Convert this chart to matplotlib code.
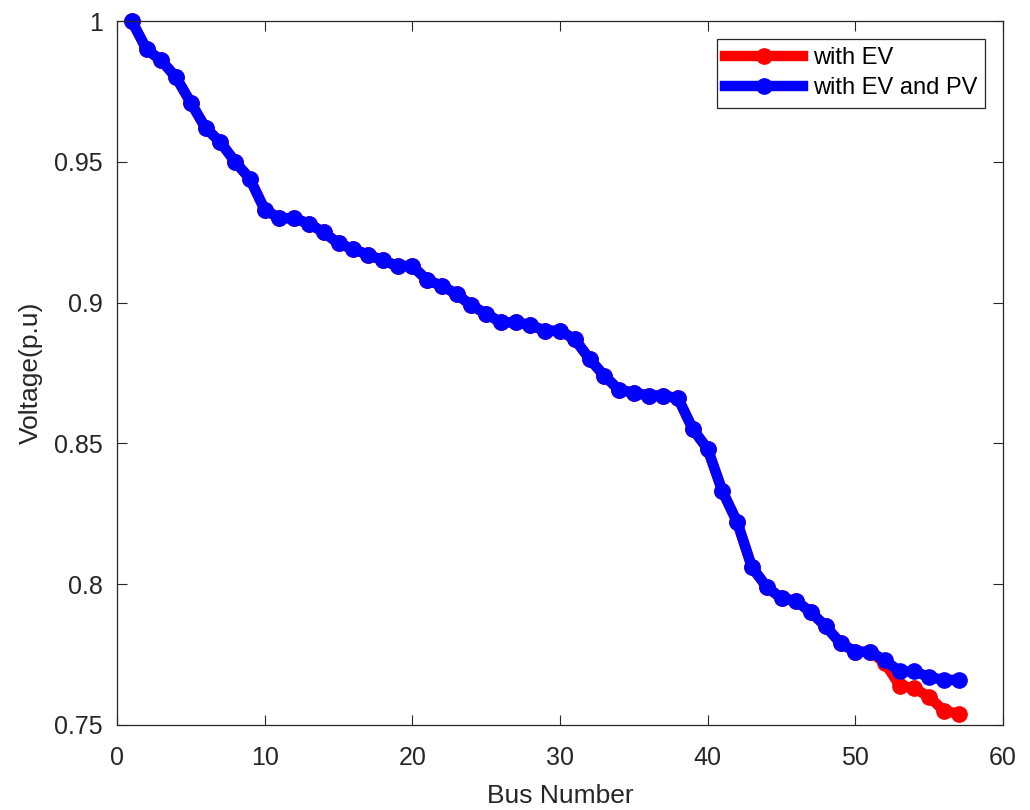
import numpy as np
import matplotlib
matplotlib.use("Agg")
import matplotlib.pyplot as plt

plt.rcParams["font.family"] = ["Liberation Sans", "DejaVu Sans"]

# Bus numbers 1..57
bus = list(range(1, 58))

# Voltage profile with EV and PV (p.u.)
v_ev_pv = [1.000, 0.990, 0.986, 0.980, 0.971, 0.962, 0.957, 0.950, 0.944, 0.933,
           0.930, 0.930, 0.928, 0.925, 0.921, 0.919, 0.917, 0.915, 0.913, 0.913,
           0.908, 0.906, 0.903, 0.899, 0.896, 0.893, 0.893, 0.892, 0.890, 0.890,
           0.887, 0.880, 0.874, 0.869, 0.868, 0.867, 0.867, 0.866, 0.855, 0.848,
           0.833, 0.822, 0.806, 0.799, 0.795, 0.794, 0.790, 0.785, 0.779, 0.776,
           0.776, 0.773, 0.769, 0.769, 0.767, 0.766, 0.766]

# Voltage profile with EV only (differs only at the tail)
v_ev = v_ev_pv[:51] + [0.772, 0.764, 0.763, 0.760, 0.755, 0.754]

fig = plt.figure(figsize=(10.3, 8.1), dpi=100)
ax = fig.add_axes([0.1136, 0.105, 0.8602, 0.869])

ax.plot(bus, v_ev, color="#ff0000", linewidth=7.5, marker="o", markersize=11,
        label="with EV", clip_on=False)
ax.plot(bus, v_ev_pv, color="#0000ff", linewidth=7.5, marker="o", markersize=11,
        label="with EV and PV", clip_on=False)

ax.set_xlim(0, 60)
ax.set_ylim(0.75, 1.0)
ax.set_xticks([0, 10, 20, 30, 40, 50, 60])
ax.set_yticks([0.75, 0.8, 0.85, 0.9, 0.95, 1.0])
ax.set_yticklabels(["0.75", "0.8", "0.85", "0.9", "0.95", "1"])
ax.tick_params(direction="in", length=7, labelsize=18, colors="#262626", top=True, right=True)
ax.tick_params(axis="x", pad=15)
ax.tick_params(axis="y", pad=10)
for s in ax.spines.values():
    s.set_color("#262626")
    s.set_linewidth(0.9)

ax.set_xlabel("Bus Number", fontsize=19, color="#262626", labelpad=10)
ax.set_ylabel("Voltage(p.u)", fontsize=19, color="#262626", labelpad=8)

leg = ax.legend(loc="upper right", fontsize=17, fancybox=False, edgecolor="#262626",
                framealpha=1, handlelength=3.3, borderaxespad=0.75, labelspacing=0.35,
                borderpad=0.35, handletextpad=0.4)
leg.get_frame().set_linewidth(0.9)

fig.savefig("out.png", dpi=100)
